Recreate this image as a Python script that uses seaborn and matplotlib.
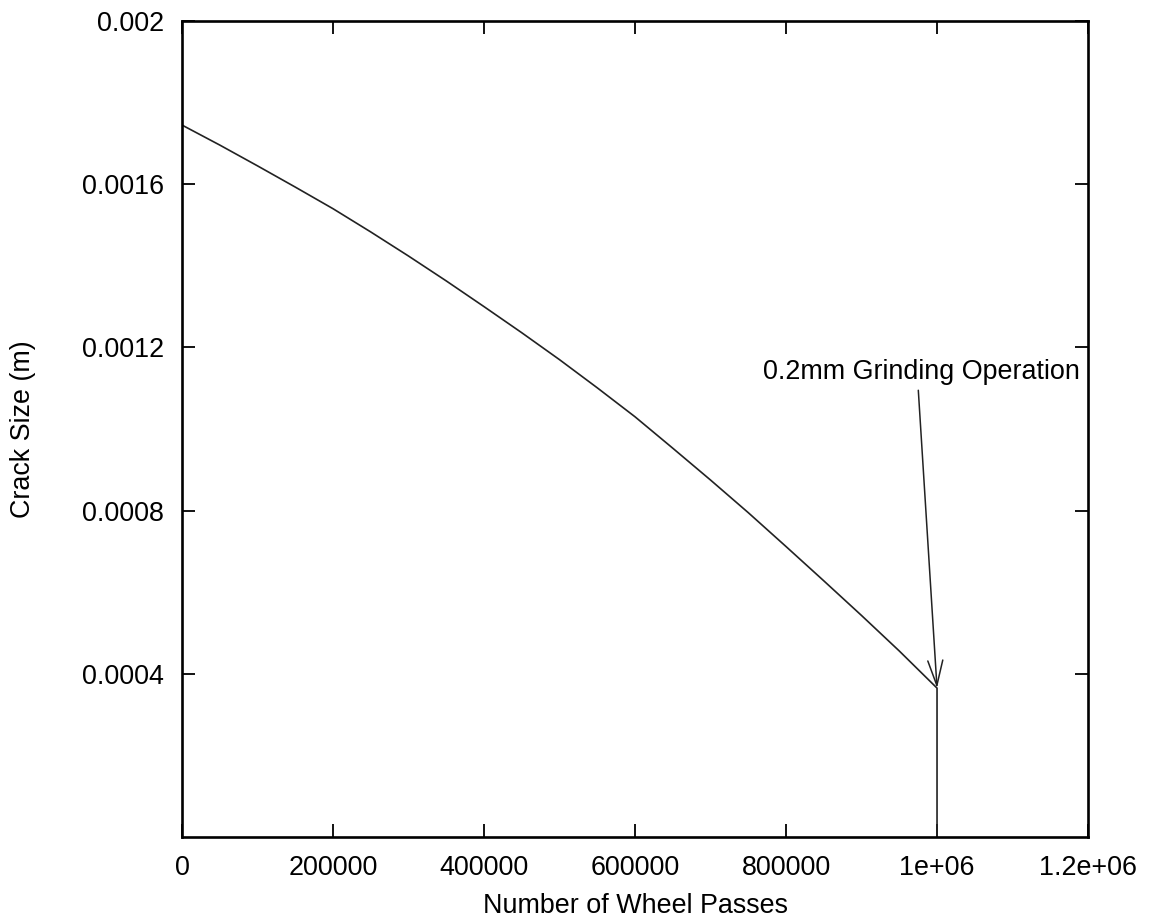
import matplotlib
matplotlib.use("Agg")
import matplotlib.pyplot as plt
import seaborn as sns
import pandas as pd

# Data
wheel_passes = [0, 50000, 100000, 150000, 200000, 250000, 300000, 350000,
                400000, 450000, 500000, 550000, 600000, 650000, 700000,
                750000, 800000, 850000, 900000, 950000, 1000000, 1000000]
crack_size = [0.001745, 0.001696, 0.001645, 0.001593, 0.001540, 0.001483,
              0.001424, 0.001363, 0.001300, 0.001236, 0.001170, 0.001101,
              0.001030, 0.000953, 0.000875, 0.000795, 0.000712, 0.000628,
              0.000543, 0.000456, 0.000365, 0.0]

x_ticks = [0, 200000, 400000, 600000, 800000, 1000000, 1200000]
x_tick_labels = ["0", "200000", "400000", "600000", "800000", "1e+06", "1.2e+06"]
y_ticks = [0.0004, 0.0008, 0.0012, 0.0016, 0.002]
y_tick_labels = ["0.0004", "0.0008", "0.0012", "0.0016", "0.002"]

annot_text = "0.2mm Grinding Operation"
annot_text_pos = (769500, 0.001122)
arrow_tail = (975200, 0.001095)
arrow_head = (1000000, 0.000365)

df = pd.DataFrame({"passes": wheel_passes, "crack": crack_size})

sns.set_style("ticks")
plt.rcParams["font.family"] = ["Liberation Sans", "DejaVu Sans"]
FS = 19.4

fig = plt.figure(figsize=(11.51, 9.17), dpi=100)
ax = fig.add_axes([0.1581, 0.0872, 0.9453 - 0.1581, 0.9771 - 0.0872])

sns.lineplot(data=df, x="passes", y="crack", ax=ax, sort=False,
             color="#222222", linewidth=1.2, estimator=None)

ax.set_xlim(0, 1200000)
ax.set_ylim(0, 0.002)
ax.set_xticks(x_ticks)
ax.set_xticklabels(x_tick_labels)
ax.set_yticks(y_ticks)
ax.set_yticklabels(y_tick_labels)

ax.tick_params(axis="both", which="major", direction="in", length=9.4,
               width=1.3, labelsize=FS, colors="black", top=True, right=True,
               pad=13)
for sp in ax.spines.values():
    sp.set_visible(True)
    sp.set_linewidth(1.9)
    sp.set_color("black")

ax.set_xlabel("Number of Wheel Passes", fontsize=FS, color="black")
ax.set_ylabel("Crack Size (m)", fontsize=FS, color="black")
ax.xaxis.set_label_coords(0.5, -0.0846)
ax.xaxis.label.set_verticalalignment("center")
ax.yaxis.set_label_coords(-0.1755, 0.5)
ax.yaxis.label.set_verticalalignment("center")

ax.text(annot_text_pos[0], annot_text_pos[1], annot_text, fontsize=FS,
        ha="left", va="baseline", color="black")
ax.annotate("", xy=arrow_head, xytext=arrow_tail,
            arrowprops=dict(arrowstyle="->,head_length=0.9,head_width=0.27",
                            color="#222222", lw=1.1, mutation_scale=20,
                            shrinkA=0, shrinkB=0))

fig.savefig("out.png", dpi=100)
